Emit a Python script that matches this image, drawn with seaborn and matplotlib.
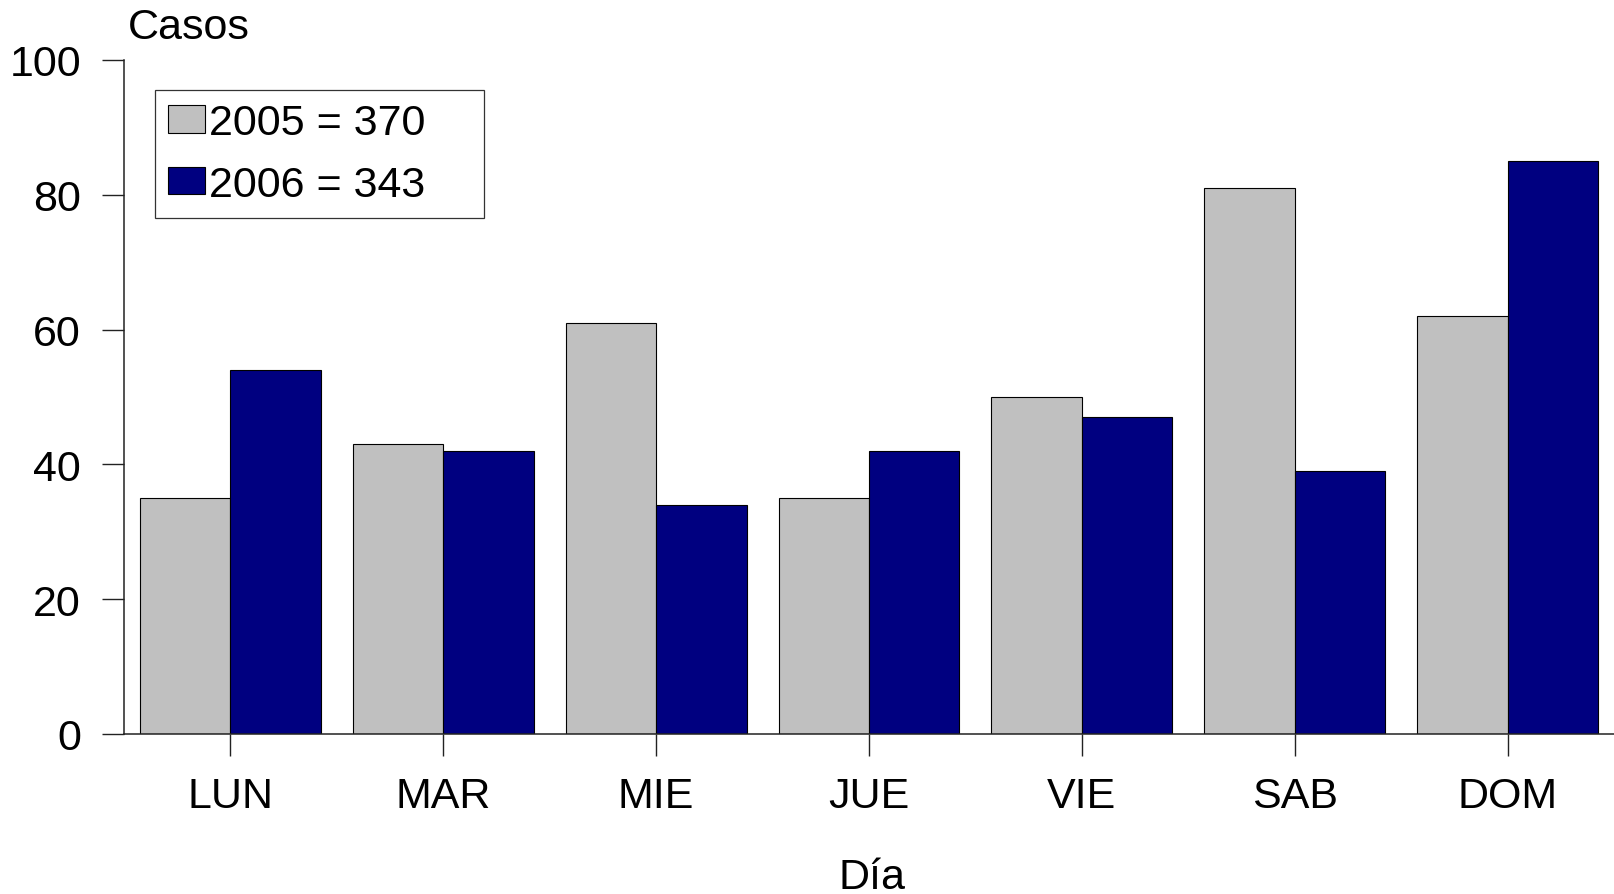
import pandas as pd
import matplotlib
matplotlib.use("Agg")
import matplotlib.pyplot as plt
import seaborn as sns
from matplotlib.patches import Patch

# Data
dias = ["LUN", "MAR", "MIE", "JUE", "VIE", "SAB", "DOM"]
casos_2005 = [35, 43, 61, 35, 50, 81, 62]
casos_2006 = [54, 42, 34, 42, 47, 39, 85]
series_labels = ["2005 = 370", "2006 = 343"]
colors = ["#C0C0C0", "#000080"]
y_ticks = [0, 20, 40, 60, 80, 100]

df = pd.DataFrame({
    "Día": dias * 2,
    "Casos": casos_2005 + casos_2006,
    "Serie": [series_labels[0]] * len(dias) + [series_labels[1]] * len(dias),
})

sns.set_style("ticks")
plt.rcParams["font.family"] = ["Liberation Sans", "DejaVu Sans"]
plt.rcParams["text.color"] = "black"
plt.rcParams["xtick.color"] = "black"
plt.rcParams["ytick.color"] = "black"
plt.rcParams["xtick.labelcolor"] = "black"
plt.rcParams["ytick.labelcolor"] = "black"

FS = 31
W, H = 1614, 895
fig = plt.figure(figsize=(W / 100, H / 100), dpi=100)
# axes: left 124px, right 1614px, top 61px, bottom 735px
ax = fig.add_axes([124 / W, 1 - 735 / H, (1614 - 124) / W, (735 - 61) / H])

sns.barplot(data=df, x="Día", y="Casos", hue="Serie", palette=colors,
            width=0.85, saturation=1, edgecolor="black", linewidth=0.8,
            ax=ax, legend=False)

ax.set_xlim(-0.5, 6.5)
ax.set_ylim(0, 100)
ax.set_yticks(y_ticks)
ax.set_xlabel("")
ax.set_ylabel("")
sns.despine(ax=ax)
for sp in ["left", "bottom"]:
    ax.spines[sp].set_linewidth(1.1)
    ax.spines[sp].set_color("#222222")
ax.tick_params(axis="both", labelsize=FS, direction="out", length=16,
               width=1.0, color="#222222", labelcolor="black")
ax.tick_params(axis="y", pad=15)
ax.tick_params(axis="x", pad=14)

handles = [Patch(facecolor=c, edgecolor="black", linewidth=0.8) for c in colors]
leg = ax.legend(handles, series_labels, loc="upper left",
                bbox_to_anchor=(0.0208, 0.8, 0.2208, 0.1549), mode="expand",
                borderaxespad=0, fontsize=FS, frameon=True, fancybox=False,
                handlelength=0.85, handleheight=0.6, handletextpad=0.1,
                labelspacing=0.5, borderpad=0.3)
leg.get_frame().set_edgecolor("black")
leg.get_frame().set_linewidth(0.9)

fig.text(128 / W, 1 - 39 / H, "Casos", fontsize=FS, va="baseline", ha="left")
fig.text(872 / W, 1 - 889 / H, "Día", fontsize=FS, va="baseline", ha="center")

fig.savefig("out.png", dpi=100)
